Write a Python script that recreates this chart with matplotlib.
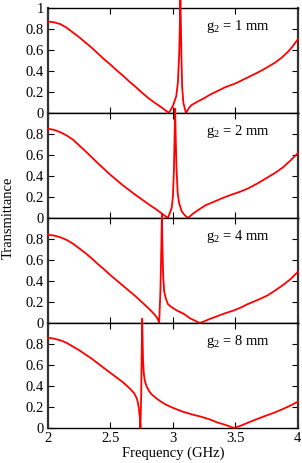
import matplotlib
matplotlib.use("Agg")
from matplotlib import pyplot as plt

plt.rcParams['font.family'] = ['Liberation Serif', 'DejaVu Serif']
plt.rcParams['mathtext.fontset'] = 'custom'
plt.rcParams['mathtext.rm'] = 'Liberation Serif'
plt.rcParams['font.size'] = 10.5

# g2 = 1 mm
freq_1 = [2.0, 2.05, 2.1, 2.15, 2.2, 2.25, 2.3, 2.35, 2.4, 2.45, 2.5, 2.55, 2.6, 2.65,
          2.7, 2.75, 2.8, 2.85, 2.9, 2.94, 2.968,
          3.0, 3.027, 3.04, 3.05, 3.056, 3.06, 3.064, 3.068, 3.074, 3.084,
          3.105, 3.13, 3.15, 3.2, 3.25, 3.3, 3.36, 3.42, 3.5, 3.56, 3.62, 3.68,
          3.72, 3.77, 3.82, 3.87, 3.92, 3.96, 4.0]
trans_1 = [0.87, 0.862, 0.845, 0.81, 0.765, 0.72, 0.67, 0.62, 0.565, 0.51, 0.46, 0.405, 0.355, 0.30,
           0.25, 0.195, 0.145, 0.10, 0.06, 0.025, 0.0,
           0.065, 0.16, 0.29, 0.55, 0.85, 1.08, 0.85, 0.55, 0.25, 0.095,
           0.0, 0.05, 0.075, 0.11, 0.14, 0.175, 0.21, 0.245, 0.28, 0.315, 0.35, 0.385,
           0.41, 0.445, 0.48, 0.525, 0.58, 0.635, 0.70]

# g2 = 2 mm
freq_2 = [2.0, 2.05, 2.1, 2.15, 2.2, 2.25, 2.3, 2.35, 2.4, 2.45, 2.5, 2.55, 2.6, 2.65,
          2.7, 2.75, 2.8, 2.85, 2.88, 2.93, 2.96,
          2.99, 3.0, 3.008, 3.014, 3.018, 3.022, 3.028, 3.038, 3.05, 3.07, 3.095,
          3.122, 3.16, 3.19, 3.26, 3.36, 3.42, 3.48, 3.54, 3.6, 3.68, 3.75,
          3.82, 3.88, 3.94, 4.0]
trans_2 = [0.85, 0.838, 0.815, 0.785, 0.745, 0.69, 0.635, 0.578, 0.52, 0.465, 0.41, 0.36, 0.31, 0.265,
           0.22, 0.178, 0.135, 0.095, 0.07, 0.025, 0.0,
           0.095, 0.2, 0.45, 0.8, 1.04, 0.8, 0.5, 0.24, 0.14, 0.065, 0.025,
           0.0, 0.04, 0.065, 0.12, 0.17, 0.2, 0.226, 0.25, 0.28, 0.33, 0.38,
           0.43, 0.48, 0.545, 0.616]

# g2 = 4 mm
freq_3 = [2.0, 2.05, 2.1, 2.15, 2.2, 2.25, 2.3, 2.35, 2.4, 2.45, 2.5, 2.55, 2.6, 2.65,
          2.7, 2.75, 2.79, 2.83, 2.856, 2.875, 2.885, 2.89,
          2.9, 2.907, 2.912, 2.916, 2.922, 2.93, 2.944, 2.96, 2.984, 3.03, 3.09,
          3.136, 3.18, 3.216, 3.26, 3.3, 3.35, 3.4, 3.45, 3.49, 3.55, 3.6, 3.65,
          3.7, 3.76, 3.82, 3.88, 3.94, 4.0]
trans_3 = [0.84, 0.832, 0.815, 0.79, 0.755, 0.71, 0.665, 0.615, 0.56, 0.51, 0.455, 0.405, 0.355, 0.305,
           0.255, 0.2, 0.156, 0.11, 0.076, 0.045, 0.02, 0.0,
           0.3, 0.7, 1.04, 0.75, 0.45, 0.3, 0.23, 0.18, 0.155, 0.12, 0.085,
           0.045, 0.02, 0.0, 0.02, 0.04, 0.062, 0.085, 0.105, 0.12, 0.15, 0.18, 0.205,
           0.23, 0.264, 0.31, 0.36, 0.415, 0.486]

# g2 = 8 mm
freq_4 = [2.0, 2.05, 2.1, 2.15, 2.2, 2.25, 2.3, 2.35, 2.416, 2.46, 2.5, 2.55, 2.6, 2.656,
          2.69, 2.71, 2.72, 2.73, 2.736, 2.74,
          2.746, 2.75, 2.754, 2.757, 2.761, 2.767, 2.775, 2.79, 2.81, 2.83, 2.87,
          2.9, 2.94, 2.984, 3.03, 3.08, 3.15, 3.224, 3.3, 3.35, 3.42, 3.49,
          3.55, 3.6, 3.68, 3.76, 3.82, 3.88, 3.94, 4.0]
trans_4 = [0.86, 0.85, 0.835, 0.81, 0.775, 0.74, 0.70, 0.66, 0.60, 0.56, 0.525, 0.48, 0.435, 0.375,
           0.33, 0.285, 0.24, 0.16, 0.09, 0.0,
           0.3, 0.7, 1.04, 0.85, 0.65, 0.52, 0.45, 0.395, 0.35, 0.32, 0.28,
           0.255, 0.225, 0.20, 0.178, 0.155, 0.13, 0.108, 0.08, 0.055, 0.03, 0.0,
           0.025, 0.05, 0.088, 0.124, 0.15, 0.18, 0.213, 0.25]

series = [(freq_1, trans_1), (freq_2, trans_2), (freq_3, trans_3), (freq_4, trans_4)]
labels = [r'g$_2$ = 1 mm', r'g$_2$ = 2 mm', r'g$_2$ = 4 mm', r'g$_2$ = 8 mm']

fig, axes = plt.subplots(4, 1, figsize=(3.02, 4.63), dpi=100, sharex=True)
fig.subplots_adjust(left=0.159, right=0.986, top=0.983, bottom=0.0756, hspace=0)

for i, (ax, (f, t), lab) in enumerate(zip(axes, series, labels)):
    ax.plot(f, t, color='red', lw=1.3, clip_on=False, zorder=5)
    ax.set_xlim(2, 4)
    ax.set_ylim(0, 1)
    if i == 0:
        ax.set_yticks([0, 0.2, 0.4, 0.6, 0.8, 1])
        ax.set_yticklabels(['0', '0.2', '0.4', '0.6', '0.8', '1'])
    else:
        ax.set_yticks([0, 0.2, 0.4, 0.6, 0.8])
        ax.set_yticklabels(['0', '0.2', '0.4', '0.6', '0.8'])
    ax.set_xticks([2, 2.5, 3, 3.5, 4])
    ax.tick_params(direction='in', length=4, width=0.8, top=True, right=True,
                   labelsize=10.5, pad=3)
    for side in ['top', 'bottom']:
        ax.spines[side].set_linewidth(1.0)
    for side in ['left', 'right']:
        ax.spines[side].set_linewidth(1.6)
        ax.spines[side].set_color('#333333')
    ax.text(0.632, 0.82, lab, transform=ax.transAxes, va='center', ha='left', fontsize=10.5)

axes[-1].set_xticklabels(['2', '2.5', '3', '3.5', '4'])
axes[-1].set_xlabel('Frequency (GHz)', fontsize=10.5, labelpad=1)
fig.text(0.027, 0.53, 'Transmittance', rotation=90, va='center', ha='center', fontsize=10.5)

fig.savefig('out.png', dpi=100)
